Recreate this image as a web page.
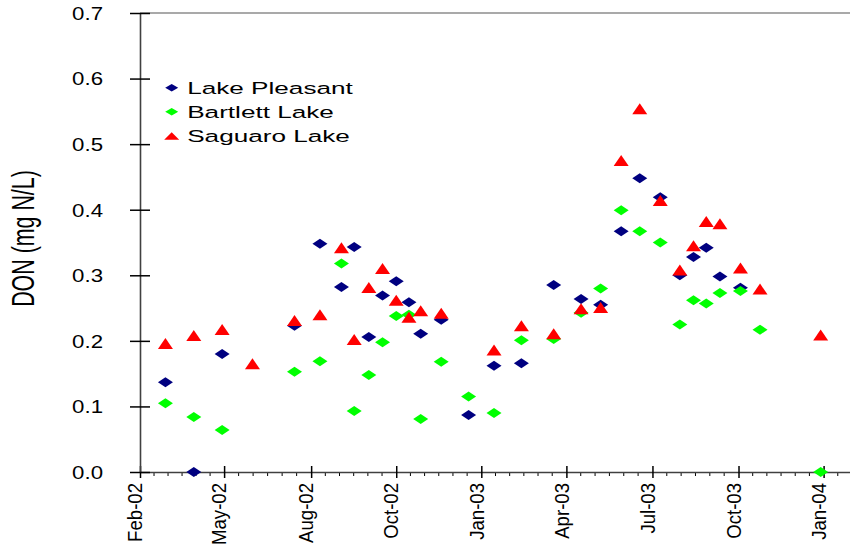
<!DOCTYPE html>
<html>
<head>
<meta charset="utf-8">
<script src="https://cdn.jsdelivr.net/npm/d3@7"></script>
<style>
  html, body { margin: 0; padding: 0; background: #fff; }
  svg { display: block; }
</style>
</head>
<body>
<div id="chart"></div>
<script>
// sampling dates shared by the three lakes
const sampleDates = [
  '2002-03-06', '2002-04-04', '2002-05-03', '2002-06-03', '2002-07-16',
  '2002-08-11', '2002-09-02', '2002-09-15', '2002-09-30', '2002-10-14',
  '2002-10-28', '2002-11-10', '2002-11-22', '2002-12-13', '2003-01-10',
  '2003-02-05', '2003-03-05', '2003-04-07', '2003-05-05', '2003-05-25',
  '2003-06-15', '2003-07-04', '2003-07-25', '2003-08-14', '2003-08-28',
  '2003-09-10', '2003-09-24', '2003-10-15', '2003-11-04', '2004-01-05'
];

// DON, mg N/L (null = no sample)
const lakePleasant = [
  0.137, 0.000, 0.180, null, 0.223, 0.348, 0.282, 0.343, 0.206, 0.269,
  0.291, 0.259, 0.211, 0.232, 0.087, 0.162, 0.166, 0.285, 0.264, 0.255,
  0.367, 0.448, 0.419, 0.300, 0.328, 0.342, 0.298, 0.281, null, null
];
const bartlettLake = [
  0.105, 0.084, 0.064, null, 0.153, 0.169, 0.318, 0.093, 0.148, 0.198,
  0.238, 0.240, 0.081, 0.168, 0.115, 0.090, 0.201, 0.203, 0.243, 0.280,
  0.399, 0.367, 0.350, 0.225, 0.262, 0.257, 0.273, 0.276, 0.217, 0.000
];
const saguaroLake = [
  0.196, 0.208, 0.2175, 0.165, 0.231, 0.240, 0.342, 0.202, 0.2815, 0.3105,
  0.262, 0.236, 0.246, 0.242, null, 0.186, 0.223, 0.211, 0.249, 0.251,
  0.475, 0.554, 0.414, 0.308, 0.345, 0.382, 0.3785, 0.311, 0.279, 0.209
];

const seriesNames = ['Lake Pleasant', 'Bartlett Lake', 'Saguaro Lake'];
const xTickDates = [
  '2002-02-08', '2002-05-05', '2002-08-02', '2002-10-28', '2003-01-23',
  '2003-04-20', '2003-07-17', '2003-10-13', '2004-01-08'
];
const yTickValues = [0, 0.1, 0.2, 0.3, 0.4, 0.5, 0.6, 0.7];

const width = 850;
const height = 544;
const font = "'Liberation Sans', Arial, Helvetica, sans-serif";
const parse = d3.timeParse('%Y-%m-%d');

const series = [
  { name: seriesNames[0], values: lakePleasant, color: '#000080', shape: 'diamond' },
  { name: seriesNames[1], values: bartlettLake, color: '#00ff00', shape: 'diamond' },
  { name: seriesNames[2], values: saguaroLake, color: '#ff0000', shape: 'triangle' }
];

function markerPath(shape, w, h) {
  if (shape === 'triangle') return `M0,${-h / 2}L${w / 2},${h / 2}L${-w / 2},${h / 2}Z`;
  return `M0,${-h / 2}L${w / 2},0L0,${h / 2}L${-w / 2},0Z`;
}

const svg = d3
  .select('#chart')
  .append('svg')
  .attr('width', width)
  .attr('height', height)
  .style('background', '#fff');

const x = d3
  .scaleTime()
  .domain([parse('2002-02-08'), parse('2004-02-04')])
  .range([140, 850]);

const y = d3
  .scaleLinear()
  .domain([0, 0.7])
  .range([472, 13]);

// top frame line
svg
  .append('line')
  .attr('x1', 140)
  .attr('x2', width)
  .attr('y1', y(0.7))
  .attr('y2', y(0.7))
  .attr('stroke', '#8c8c8c')
  .attr('stroke-width', 1.3);

// minor x ticks
const majorX = xTickDates.map(d => x(parse(d)));
const minorX = [];
majorX.forEach((p, i) => {
  const next = i < majorX.length - 1 ? majorX[i + 1] : p + (p - majorX[i - 1]);
  for (let k = 1; k < 6; k++) {
    const m = p + ((next - p) * k) / 6;
    if (m < width) minorX.push(m);
  }
});

svg
  .append('g')
  .selectAll('line')
  .data(minorX)
  .join('line')
  .attr('x1', d => d)
  .attr('x2', d => d)
  .attr('y1', y(0))
  .attr('y2', y(0) + 4)
  .attr('stroke', '#000')
  .attr('stroke-width', 1);

const xAxis = svg
  .append('g')
  .attr('transform', `translate(0,${y(0)})`)
  .attr('font-family', font)
  .call(
    d3
      .axisBottom(x)
      .tickValues(xTickDates.map(parse))
      .tickFormat(d3.timeFormat('%b-%y'))
      .tickSize(6)
      .tickSizeOuter(0)
  );

xAxis.select('.domain').attr('stroke', '#404040').attr('stroke-width', 1.6);
xAxis.selectAll('.tick line').attr('y1', -6).attr('stroke', '#000').attr('stroke-width', 1.5);
xAxis
  .selectAll('.tick text')
  .attr('x', null)
  .attr('y', null)
  .attr('dy', null)
  .attr('text-anchor', 'end')
  .attr('font-size', 18.6)
  .attr('fill', '#000')
  .attr('transform', 'translate(1.7,11) scale(1.13,1) rotate(-90)');

const yAxis = svg
  .append('g')
  .attr('transform', 'translate(140,0)')
  .attr('font-family', font)
  .call(
    d3
      .axisLeft(y)
      .tickValues(yTickValues)
      .tickFormat(d3.format('.1f'))
      .tickSize(10)
      .tickSizeOuter(0)
  );

yAxis.select('.domain').attr('stroke', '#404040').attr('stroke-width', 1.6);
yAxis.selectAll('.tick line').attr('x1', 10).attr('stroke', '#000').attr('stroke-width', 1.5);
yAxis
  .selectAll('.tick text')
  .attr('x', null)
  .attr('dy', null)
  .attr('text-anchor', 'end')
  .attr('font-size', 17.5)
  .attr('fill', '#000')
  .attr('transform', 'translate(-37,6.3) scale(1.27,1)');

// y axis title
svg
  .append('text')
  .attr('transform', 'translate(34,238.5) scale(1.44,1) rotate(-90)')
  .attr('text-anchor', 'middle')
  .attr('font-family', font)
  .attr('font-size', 21.4)
  .text('DON (mg N/L)');

// points: drawn in series order so Saguaro sits on top
series.forEach(s => {
  const pts = sampleDates
    .map((d, i) => ({ date: parse(d), value: s.values[i] }))
    .filter(p => p.value !== null);
  const w = 15;
  const h = s.shape === 'triangle' ? 11 : 10;
  svg
    .append('g')
    .attr('fill', s.color)
    .selectAll('path')
    .data(pts)
    .join('path')
    .attr('d', markerPath(s.shape, w, h))
    .attr('transform', d => `translate(${x(d.date)},${y(d.value)})`);
});

// legend
const legend = svg
  .append('g')
  .attr('font-family', font);

const rows = legend
  .selectAll('g')
  .data(series)
  .join('g')
  .attr('transform', (d, i) => `translate(171.7,${87.7 + i * 24.1})`);

rows
  .append('path')
  .attr('d', d => (d.shape === 'triangle' ? markerPath('triangle', 15, 7.5) : markerPath('diamond', 13, 7.5)))
  .attr('fill', d => d.color);

rows
  .append('text')
  .attr('transform', 'translate(15.5,6.2) scale(1.52,1)')
  .attr('font-size', 17.2)
  .attr('fill', '#000')
  .text(d => d.name);
</script>
</body>
</html>
